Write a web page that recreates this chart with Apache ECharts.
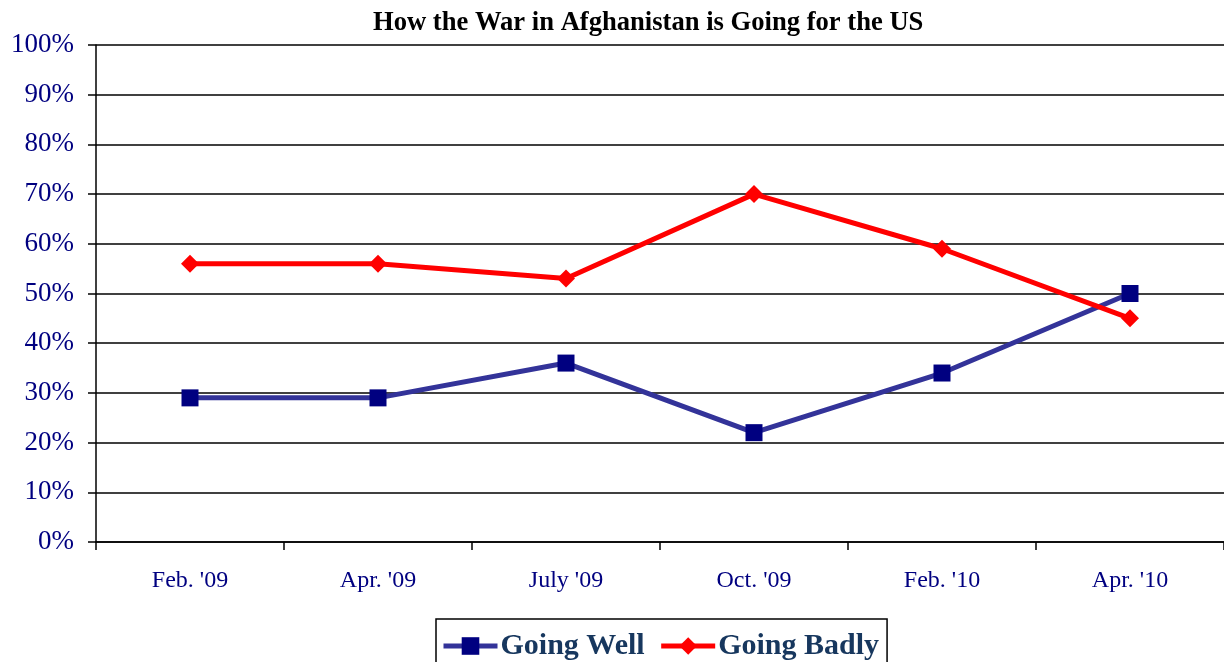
<!DOCTYPE html>
<html><head><meta charset="utf-8">
<script src="https://cdn.jsdelivr.net/npm/echarts@6/dist/echarts.min.js"></script>
<style>html,body{margin:0;padding:0;background:#fff}#c{width:1224px;height:662px}</style>
</head><body><div id="c"></div>
<script>
const categories = ["Feb. '09", "Apr. '09", "July '09", "Oct. '09", "Feb. '10", "Apr. '10"];
const goingWell = [29, 29, 36, 22, 34, 50];
const goingBadly = [56, 56, 53, 70, 59, 45];
const titleText = "How the War in Afghanistan is Going for the US";

const chart = echarts.init(document.getElementById('c'));
chart.setOption({
  animation: false,
  backgroundColor: '#fff',
  title: {
    text: titleText, left: 368, top: 5,
    textStyle: {fontFamily: 'Liberation Serif', fontWeight: 'bold', fontSize: 26.6, color: '#000'}
  },
  grid: {left: 96, right: -4, top: 45, bottom: 120},
  xAxis: {
    type: 'category', data: categories, boundaryGap: true,
    axisLine: {lineStyle: {color: '#000', width: 1.5}},
    axisTick: {show: true, length: 8, lineStyle: {color: '#000', width: 1.5}},
    axisLabel: {color: '#000080', fontFamily: 'Liberation Serif', fontSize: 24, margin: 27}
  },
  yAxis: {
    type: 'value', min: 0, max: 100, interval: 10,
    axisLine: {show: true, lineStyle: {color: '#000', width: 1.5}},
    axisTick: {show: true, length: 8, lineStyle: {color: '#000', width: 1.5}},
    splitLine: {lineStyle: {color: '#000', width: 1.5}},
    axisLabel: {color: '#000080', fontFamily: 'Liberation Serif', fontSize: 27, margin: 22, formatter: '{value}%'}
  },
  legend: {
    left: 436, top: 619, itemGap: 14, itemWidth: 54, itemHeight: 22,
    borderColor: '#000', borderWidth: 1.5, padding: [12, 8, 13, 5],
    textStyle: {fontFamily: 'Liberation Serif', fontWeight: 'bold', fontSize: 30, color: '#17375E', padding: [0, 0, 0, -2]},
    lineStyle: {width: 5},
    data: ['Going Well', 'Going Badly']
  },
  series: [
    {name: 'Going Well', type: 'line', data: goingWell, symbol: 'rect', symbolSize: 17,
     lineStyle: {color: '#333399', width: 5}, itemStyle: {color: '#000080'}},
    {name: 'Going Badly', type: 'line', data: goingBadly, symbol: 'diamond', symbolSize: 18,
     lineStyle: {color: '#FF0000', width: 5}, itemStyle: {color: '#FF0000'}}
  ]
});
</script></body></html>
